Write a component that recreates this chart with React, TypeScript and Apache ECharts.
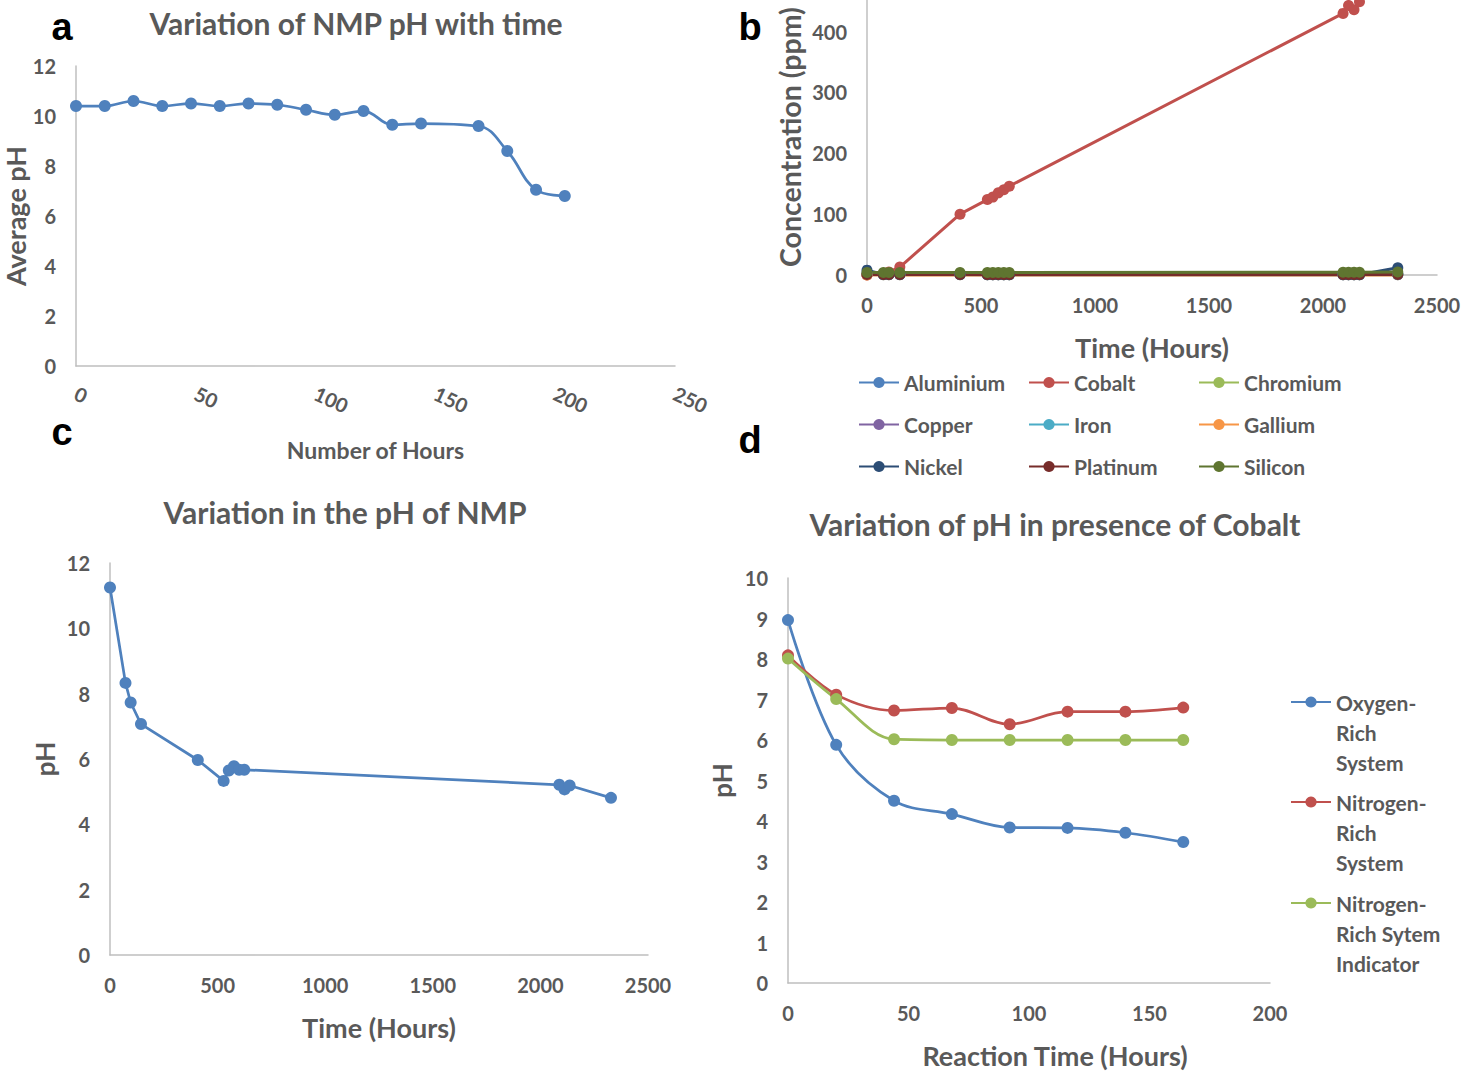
import React, { useEffect, useRef } from "react";
import * as echarts from "echarts";

// ---- Panel a: Variation of NMP pH with time
const hoursA = [0, 12, 24, 36, 48, 60, 72, 84, 96, 108, 120, 132, 144, 168, 180, 192, 204];
const phA = [10.4, 10.4, 10.6, 10.4, 10.5, 10.4, 10.5, 10.45, 10.25, 10.05, 10.2, 9.65, 9.7, 9.6, 8.6, 7.05, 6.8];

// ---- Panel b: Concentration (ppm) vs time
const hoursB = [0, 72, 96, 144, 408, 528, 552, 576, 600, 624, 2088, 2112, 2136, 2160, 2328];
const elementNames = ["Aluminium", "Cobalt", "Chromium", "Copper", "Iron", "Gallium", "Nickel", "Platinum", "Silicon"];
const aluminium = [2, 1, 1, 1, 1.5, 1.5, 1.5, 1.5, 1.5, 1.5, 2, 2, 2, 2, 2];
const cobalt = [0, 3, 5, 13, 100, 124, 128, 135, 140, 146, 430, 443, 436, 449, null];
const chromium = [1, 0.5, 0.5, 0.5, 0.5, 0.5, 0.5, 0.5, 0.5, 0.5, 0.5, 0.5, 0.5, 0.5, 0.5];
const copper = [0.5, 0.3, 0.3, 0.3, 0.3, 0.3, 0.3, 0.3, 0.3, 0.3, 0.3, 0.3, 0.3, 0.3, 0.3];
const iron = [1, 1, 1, 1, 1, 1, 1, 1, 1, 1, 1, 1, 1, 1, 1];
const gallium = [0, -1, -1, -1, -1, -1, -1, -1, -1, -1, -1, -1, -1, -1, -1];
const nickel = [8, 1, 1, 1, 1, 0.5, 0.5, 0.5, 0.5, 0.5, 0.5, 0.5, 0.5, 0.5, 12];
const platinum = [1, 1, 1, 1, 1, 1, 1, 1, 1, 1, 1, 1, 1, 1, 1];
const silicon = [4, 4, 4, 4, 4, 4, 4, 4, 4, 4, 4.5, 4.5, 4.5, 4.5, 5];
const elementValues = [aluminium, cobalt, chromium, copper, iron, gallium, nickel, platinum, silicon];
const elementColors = ["#4F81BD", "#C0504D", "#9BBB59", "#8064A2", "#4BACC6", "#F79646", "#2C4D75", "#772C2A", "#5F7530"];

// ---- Panel c: Variation in the pH of NMP
const hoursC = [0, 72, 96, 144, 408, 528, 552, 576, 600, 624, 2088, 2112, 2136, 2328];
const phC = [11.25, 8.33, 7.73, 7.07, 5.97, 5.33, 5.65, 5.78, 5.67, 5.67, 5.21, 5.07, 5.19, 4.81];

// ---- Panel d: Variation of pH in presence of Cobalt
const hoursD = [0, 20, 44, 68, 92, 116, 140, 164];
const oxygenRich = [8.96, 5.88, 4.5, 4.17, 3.84, 3.83, 3.71, 3.48];
const nitrogenRich = [8.09, 7.12, 6.73, 6.79, 6.39, 6.7, 6.7, 6.8];
const nitrogenIndicator = [8.01, 7.01, 6.02, 6.0, 6.0, 6.0, 6.0, 6.0];
const seriesNamesD = ["Oxygen-Rich System", "Nitrogen-Rich System", "Nitrogen-Rich Sytem Indicator"];
const legendLabelsD = ["Oxygen-\nRich\nSystem", "Nitrogen-\nRich\nSystem", "Nitrogen-\nRich Sytem\nIndicator"];

const FONT = "Lato, 'Open Sans', sans-serif";
const GRAY = "#595959";
const AXIS = "#BFBFBF";

const pairs = (xs: number[], ys: (number | null)[]) =>
  xs.map((x, i) => [x, ys[i]]).filter((p) => p[1] !== null && p[1] !== undefined);

const tickLabel = {
  color: GRAY,
  fontSize: 20,
  fontWeight: "bold",
  fontFamily: FONT,
  margin: 20,
  formatter: (v: number) => String(v),
};

function xAxisBase(grid: number, max: number, interval: number, extra: any = {}) {
  return {
    type: "value",
    gridIndex: grid,
    min: 0,
    max,
    interval,
    axisLine: { show: true, onZero: false, lineStyle: { color: AXIS, width: 1.5 } },
    axisTick: { show: false },
    splitLine: { show: false },
    axisLabel: { ...tickLabel },
    nameTextStyle: { color: GRAY, fontSize: 27, fontWeight: "bold", fontFamily: FONT },
    ...extra,
  };
}

function yAxisBase(grid: number, max: number, interval: number, extra: any = {}) {
  return {
    type: "value",
    gridIndex: grid,
    min: 0,
    max,
    interval,
    axisLine: { show: true, lineStyle: { color: AXIS, width: 1.5 } },
    axisTick: { show: false },
    splitLine: { show: false },
    axisLabel: { ...tickLabel },
    nameTextStyle: { color: GRAY, fontSize: 26, fontWeight: "bold", fontFamily: FONT },
    ...extra,
  };
}

function txt(text: string, x: number, y: number, size: number, color: string, family: string, rotation = 0) {
  return {
    type: "text",
    x,
    y,
    rotation,
    style: {
      text,
      fill: color,
      fontSize: size,
      fontWeight: "bold",
      fontFamily: family,
      textAlign: "center",
      textVerticalAlign: "middle",
    },
  };
}

export default function App() {
  const ref = useRef<HTMLDivElement>(null);

  useEffect(() => {
    if (!ref.current) return;
    const chart = echarts.init(ref.current, undefined, { renderer: "svg" });

    const legendText = { color: GRAY, fontSize: 21, fontWeight: "bold", fontFamily: FONT, lineHeight: 20 };
    const legendB = [
      ["Aluminium", "Copper", "Nickel"],
      ["Cobalt", "Iron", "Platinum"],
      ["Chromium", "Gallium", "Silicon"],
    ].map((names, i) => ({
      orient: "vertical",
      left: 858 + i * 170,
      top: 372,
      padding: 0,
      itemWidth: 40,
      itemHeight: 14,
      itemGap: 21,
      data: names,
      textStyle: legendText,
    }));
    const legendD = seriesNamesD.map((name, i) => ({
      orient: "vertical",
      left: 1290,
      top: [703, 803, 904][i] - 76,
      padding: 0,
      itemWidth: 40,
      itemHeight: 14,
      data: [name],
      formatter: () => "\n\n" + legendLabelsD[i],
      textStyle: { ...legendText, lineHeight: 30 },
    }));

    const option: any = {
      animation: false,
      backgroundColor: "#ffffff",
      grid: [
        { left: 76, top: 66, width: 599, height: 300 },
        { left: 867, top: 0, width: 570, height: 275 },
        { left: 110, top: 563, width: 538, height: 392 },
        { left: 788, top: 578, width: 482, height: 405 },
      ],
      xAxis: [
        xAxisBase(0, 250, 50, {
          name: "Number of Hours",
          nameLocation: "middle",
          nameGap: 72,
          nameTextStyle: { color: GRAY, fontSize: 23, fontWeight: "bold", fontFamily: FONT },
          axisLabel: { ...tickLabel, margin: 26, rotate: -25 },
        }),
        xAxisBase(1, 2500, 500, {
          name: "Time (Hours)",
          nameLocation: "middle",
          nameGap: 59,
        }),
        xAxisBase(2, 2500, 500, {
          name: "Time (Hours)",
          nameLocation: "middle",
          nameGap: 59,
        }),
        xAxisBase(3, 200, 50),
      ],
      yAxis: [
        yAxisBase(0, 12, 2, {
          name: "Average pH",
          nameLocation: "middle",
          nameRotate: 90,
          nameGap: 44,
          nameTextStyle: { color: GRAY, fontSize: 27, fontWeight: "bold", fontFamily: FONT },
        }),
        yAxisBase(1, 452, 100, { axisLabel: { ...tickLabel, showMaxLabel: false } }),
        yAxisBase(2, 12, 2, {
          name: "pH",
          nameLocation: "middle",
          nameRotate: 90,
          nameGap: 52,
        }),
        yAxisBase(3, 10, 1, {
          name: "pH",
          nameLocation: "middle",
          nameRotate: 90,
          nameGap: 53,
        }),
      ],
      legend: [...legendB, ...legendD],
      series: [
        {
          type: "line",
          name: "Average pH",
          xAxisIndex: 0,
          yAxisIndex: 0,
          data: pairs(hoursA, phA),
          smooth: 0.4,
          symbol: "circle",
          symbolSize: 12,
          color: "#4F81BD",
          lineStyle: { width: 2.75, color: "#4F81BD" },
        },
        ...elementNames.map((name, i) => ({
          type: "line",
          name,
          xAxisIndex: 1,
          yAxisIndex: 1,
          data: pairs(hoursB, elementValues[i]),
          symbol: "circle",
          symbolSize: 11,
          color: elementColors[i],
          lineStyle: { width: 3, color: elementColors[i] },
        })),
        {
          type: "line",
          name: "pH of NMP",
          xAxisIndex: 2,
          yAxisIndex: 2,
          data: pairs(hoursC, phC),
          symbol: "circle",
          symbolSize: 12,
          color: "#4F81BD",
          lineStyle: { width: 2.75, color: "#4F81BD" },
        },
        ...[oxygenRich, nitrogenRich, nitrogenIndicator].map((vals, i) => ({
          type: "line",
          name: seriesNamesD[i],
          xAxisIndex: 3,
          yAxisIndex: 3,
          data: pairs(hoursD, vals),
          smooth: 0.35,
          symbol: "circle",
          symbolSize: 12,
          color: ["#4F81BD", "#C0504D", "#9BBB59"][i],
          lineStyle: { width: 2.75, color: ["#4F81BD", "#C0504D", "#9BBB59"][i] },
        })),
      ],
      graphic: [
        txt("Variation of NMP pH with time", 356, 23, 30, GRAY, FONT),
        txt("Variation in the pH of NMP", 345, 512, 30, GRAY, FONT),
        txt("Variation of pH in presence of Cobalt", 1055, 524, 30, GRAY, FONT),
        txt("Concentration (ppm)", 790, 137, 28.5, GRAY, FONT, Math.PI / 2),
        txt("Reaction Time (Hours)", 1055, 1055, 27, GRAY, FONT),
        txt("a", 62, 27, 38, "#000000", "'Liberation Sans', Arial, sans-serif"),
        txt("b", 750, 27, 38, "#000000", "'Liberation Sans', Arial, sans-serif"),
        txt("c", 62, 432, 38, "#000000", "'Liberation Sans', Arial, sans-serif"),
        txt("d", 750, 440, 38, "#000000", "'Liberation Sans', Arial, sans-serif"),
      ],
    };

    chart.setOption(option);
    return () => chart.dispose();
  }, []);

  return (
    <div
      ref={ref}
      style={{ position: "fixed", left: 0, top: 0, width: 1478, height: 1071, background: "#fff" }}
    />
  );
}
